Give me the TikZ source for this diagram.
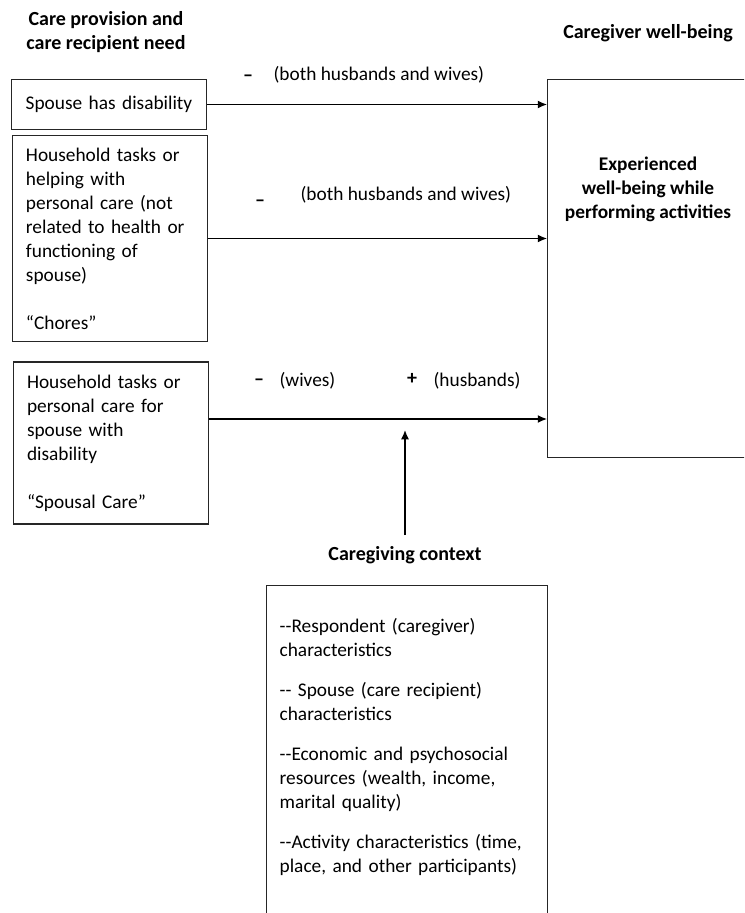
\documentclass[tikz,border=0pt]{standalone}
\usepackage{fontspec}
\setmainfont{Carlito}
\usetikzlibrary{positioning,arrows.meta,calc}

\begin{document}
\begin{tikzpicture}[x=0.75pt,y=-0.75pt,
  hdr/.style={font=\bfseries\fontsize{15}{18}\selectfont, align=center, inner sep=0pt},
  boldtxt/.style={font=\bfseries\fontsize{14.5}{18}\selectfont, align=center, inner sep=0pt},
  lbl/.style={font=\fontsize{14.5}{18}\selectfont, inner sep=1pt},
  sgn/.style={font=\bfseries\fontsize{15}{18}\selectfont, inner sep=1pt, anchor=base},
  srcbox/.style={draw=black!85, line width=0.8pt, font=\fontsize{14.5}{18}\selectfont,
    align=left, text width=126pt, inner xsep=10pt, minimum width=146pt},
  ctxbox/.style={draw=black!85, line width=0.8pt, font=\fontsize{14.5}{18}\selectfont,
    align=left, text width=191pt, inner xsep=10pt, inner ysep=0pt, anchor=north},
  bigbox/.style={draw=black!85, line width=0.8pt, minimum width=200pt, minimum height=283pt},
  effect/.style={draw=black, line width=1.1pt, -{Latex[length=7pt,width=6pt]}}
]
\useasboundingbox (0,0) rectangle (744,913);
\clip (0,0) rectangle (744,913);

% headings
\node[hdr] (hsrc) at (106,32) {Care provision and\\care recipient need};
\node[hdr] (hwell) at (648,33) {Caregiver well-being};

% left boxes
\node[srcbox, minimum height=37.5pt, align=center] (dis) at (109,104.5) {Spouse has disability};
\node[srcbox, minimum height=154.5pt, minimum width=145pt] (chores) at (110,238.5) {Household tasks or\\helping with\\personal care (not\\related to health or\\functioning of\\spouse)\\[18pt]“Chores”};
\node[srcbox, minimum height=121.5pt, minimum width=144pt] (care) at (111,443) {Household tasks or\\personal care for\\spouse with\\disability\\[18pt]“Spousal Care”};

% outcome box
\node[bigbox] (well) at (681,268.5) {};
\node[boldtxt] (exp) at (648,189) {Experienced\\well-being while\\performing activities};

% context
\node[hdr] (hctx) at (405,555) {Caregiving context};
\node[ctxbox] (ctx) at (407,585) {\rule{0pt}{35pt}-{}-Respondent (caregiver)\\characteristics\\[12pt]-{}- Spouse (care recipient)\\characteristics\\[12pt]-{}-Economic and psychosocial\\resources (wealth, income,\\marital quality)\\[12pt]-{}-Activity characteristics (time,\\place, and other participants)\\[40pt]~};

% arrows
\draw[effect] (dis.east) -- (dis.east -| well.west);
\draw[effect] (chores.east) -- (chores.east -| well.west);
\draw[effect] ($(care.east)+(0,-24)$) -- ($(care.east -| well.west)+(0,-24)$);
\coordinate (mod) at (405,430);
\draw[effect] (405,535) -- (mod);

% signs
\node[sgn] (s1) at (248,82) {–};
\node[lbl, anchor=west] (t1) at (272,75) {(both husbands and wives)};
\node[sgn] (s2) at (260,206) {–};
\node[lbl, anchor=west] (t2) at (299,195) {(both husbands and wives)};
\node[sgn] (s3) at (259,385) {–};
\node[lbl, anchor=west] (t3) at (278,381) {(wives)};
\node[sgn] (s4) at (412,384) {+};
\node[lbl, anchor=west] (t4) at (432,381) {(husbands)};

\end{tikzpicture}
\end{document}
